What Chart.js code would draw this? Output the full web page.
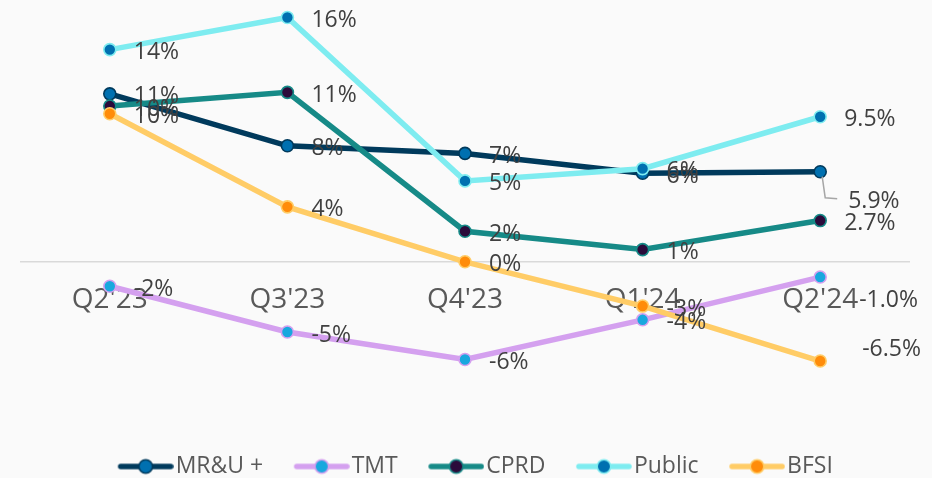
<!DOCTYPE html>
<html>
<head>
<meta charset="utf-8">
<script src="https://cdn.jsdelivr.net/npm/chart.js@4.4.0/dist/chart.umd.min.js"></script>
<style>
  html, body { margin: 0; padding: 0; background: #fafafa; }
</style>
</head>
<body>
<canvas id="my-chart" width="932" height="478"></canvas>
<script>
const quarters = ["Q2'23", "Q3'23", "Q4'23", "Q1'24", "Q2'24"];
const seriesNames = ['MR&U +', 'TMT', 'CPRD', 'Public', 'BFSI'];

const mruValues = [11.0, 7.6, 7.1, 5.8, 5.9];
const tmtValues = [-1.6, -4.6, -6.4, -3.8, -1.0];
const cprdValues = [10.2, 11.1, 2.0, 0.8, 2.7];
const publicValues = [13.9, 16.0, 5.3, 6.1, 9.5];
const bfsiValues = [9.7, 3.6, 0.0, -2.9, -6.5];

const mruLabels = ['11%', '8%', '7%', '6%', '5.9%'];
const tmtLabels = ['-2%', '-5%', '-6%', '-4%', '-1.0%'];
const cprdLabels = ['10%', '11%', '2%', '1%', '2.7%'];
const publicLabels = ['14%', '16%', '5%', '6%', '9.5%'];
const bfsiLabels = ['10%', '4%', '0%', '-3%', '-6.5%'];

const FONT = "'Open Sans', 'Noto Sans', sans-serif";

// line colour, marker fill, marker border
const styles = [
  ['#003a5c', '#0070b0', '#003a5c'],
  ['#d4a0ef', '#18a8de', '#d4a0ef'],
  ['#168a87', '#2b0b3b', '#168a87'],
  ['#7eecf0', '#0070b0', '#7eecf0'],
  ['#ffcc66', '#ff8c0a', '#ffcc66']
];

// legend swatch: line with a marker, sits just left of the text
function legendIcon(s) {
  const c = document.createElement('canvas');
  c.width = 86; c.height = 18;
  const g = c.getContext('2d');
  g.strokeStyle = s[0]; g.lineWidth = 5.5; g.lineCap = 'round';
  g.beginPath(); g.moveTo(33, 9); g.lineTo(83, 9); g.stroke();
  g.beginPath(); g.arc(58, 9, 6.8, 0, Math.PI * 2);
  g.fillStyle = s[1]; g.fill();
  g.lineWidth = 1.6; g.strokeStyle = s[2]; g.stroke();
  return c;
}
const icons = styles.map(legendIcon);

// label placement tweaks (dx, dy from point), default right of point
const labelShift = { '0-4': [28, 30], '1-4': [39, 23], '4-4': [42, -12] };
const leaders = { '0-4': [[2, 5], [5, 26], [17, 27]] };

const dataLabels = {
  id: 'dataLabels',
  afterDatasetsDraw(chart) {
    const ctx = chart.ctx;
    ctx.save();
    ctx.font = '23px ' + FONT;
    ctx.fillStyle = '#404040';
    ctx.textAlign = 'left';
    ctx.textBaseline = 'middle';
    chart.data.datasets.forEach((ds, di) => {
      const meta = chart.getDatasetMeta(di);
      meta.data.forEach((pt, i) => {
        const key = di + '-' + i;
        const d = labelShift[key] || [24, 3];
        if (leaders[key]) {
          ctx.save();
          ctx.strokeStyle = '#a6a6a6'; ctx.lineWidth = 1.5;
          ctx.beginPath();
          leaders[key].forEach((p, k) => {
            if (k === 0) ctx.moveTo(pt.x + p[0], pt.y + p[1]);
            else ctx.lineTo(pt.x + p[0], pt.y + p[1]);
          });
          ctx.stroke();
          ctx.restore();
        }
        ctx.fillText(ds.valueLabels[i], pt.x + d[0], pt.y + d[1]);
      });
    });
    ctx.restore();
  }
};

const values = [mruValues, tmtValues, cprdValues, publicValues, bfsiValues];
const labelSets = [mruLabels, tmtLabels, cprdLabels, publicLabels, bfsiLabels];

const datasets = seriesNames.map((name, i) => ({
  label: name,
  data: values[i],
  valueLabels: labelSets[i],
  borderColor: styles[i][0],
  backgroundColor: styles[i][1],
  pointBackgroundColor: styles[i][1],
  pointBorderColor: styles[i][2],
  pointBorderWidth: 1.6,
  pointRadius: 6,
  borderWidth: 5.5,
  tension: 0,
  order: 4 - i
}));

const ctx = document.getElementById('my-chart').getContext('2d');
const chart = new Chart(ctx, {
  type: 'line',
  data: { labels: quarters, datasets: datasets },
  options: {
    responsive: false,
    animation: false,
    devicePixelRatio: 1,
    layout: { padding: { left: 21, right: 23, top: 2, bottom: -10 } },
    scales: {
      x: {
        position: { y: 0 },
        offset: true,
        grid: { display: false, drawTicks: false },
        border: { color: '#d9d9d9', width: 1.5 },
        ticks: { font: { size: 28, family: FONT }, color: '#595959', padding: 21 }
      },
      y: { display: false, min: -12, max: 16.65 }
    },
    plugins: {
      tooltip: { enabled: false },
      legend: {
        position: 'bottom',
        labels: {
          usePointStyle: true,
          pointStyleWidth: 67,
          padding: 10,
          color: '#595959',
          font: { size: 23, family: FONT },
          generateLabels(chart) {
            const items = Chart.defaults.plugins.legend.labels.generateLabels(chart);
            items.forEach(it => { it.pointStyle = icons[it.datasetIndex]; });
            return items.sort((a, b) => a.datasetIndex - b.datasetIndex);
          }
        }
      }
    }
  },
  plugins: [dataLabels]
});
</script>
</body>
</html>
